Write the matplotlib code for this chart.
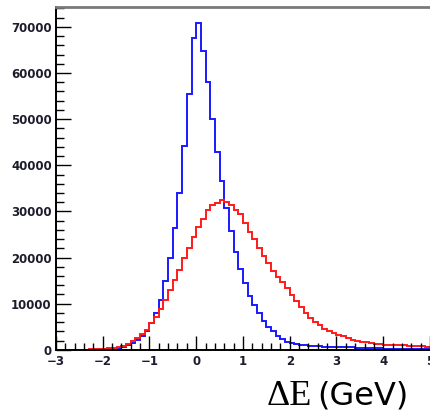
import numpy as np
import matplotlib
matplotlib.use("Agg")
import matplotlib.pyplot as plt
from matplotlib.ticker import MultipleLocator

# histogram binning: 80 bins of 0.1 GeV from -3 to 5
bin_edges = np.linspace(-3.0, 5.0, 81)

# blue histogram (narrow peak)
blue_counts = [
    0, 0, 0, 0, 0, 10, 20, 40, 60, 90,
    130, 190, 280, 420, 650, 1000, 1500, 2100, 2900, 4000,
    5850, 8000, 10850, 14970, 19950, 26450, 34100, 44250, 55500, 67500,
    70900, 64700, 58000, 50100, 42900, 36500, 30700, 25670, 21250, 17550,
    14460, 11750, 9650, 7900, 6250, 5060, 3980, 3040, 2310, 1800,
    1450, 1200, 1080, 950, 870, 800, 740, 690, 650, 610,
    580, 560, 540, 520, 400, 360, 340, 320, 310, 300,
    290, 280, 270, 260, 250, 240, 230, 220, 210, 200,
]

# red histogram (broad, skewed)
red_counts = [
    0, 0, 0, 0, 0, 0, 0, 100, 150, 200,
    250, 430, 430, 650, 940, 1300, 1810, 2530, 3400, 4340,
    5780, 7090, 8820, 10850, 13020, 15180, 17350, 19890, 22060, 24450,
    26620, 28350, 30220, 31450, 31820, 32390, 31950, 31400, 30370, 29430,
    27480, 25530, 24010, 22060, 20390, 18800, 17000, 15800, 14800, 13380,
    11930, 10480, 9260, 7960, 6870, 6140, 5300, 4600, 4100, 3700,
    3250, 2900, 2550, 2200, 1950, 1750, 1600, 1450, 1350, 1300,
    1150, 1100, 1050, 1000, 950, 930, 880, 820, 780, 720,
]

fig = plt.figure(figsize=(4.30, 4.15), dpi=100)
ax = fig.add_axes([0.130, 0.157, 0.870, 0.826])

ax.stairs(blue_counts, bin_edges, color="#1a1aff", linewidth=1.4)
ax.stairs(red_counts, bin_edges, color="#ff1a1a", linewidth=1.4)

ax.set_xlim(-3, 5)
ax.set_ylim(0, 74300)

ax.xaxis.set_major_locator(MultipleLocator(1))
ax.xaxis.set_minor_locator(MultipleLocator(0.2))
ax.yaxis.set_major_locator(MultipleLocator(10000))
ax.yaxis.set_minor_locator(MultipleLocator(2000))

label_color = "#1c1c2c"
ax.tick_params(axis="both", which="both", direction="in", color="black",
               width=1.0, labelcolor=label_color)
ax.tick_params(axis="x", which="major", length=10, pad=4, labelsize=8.5)
ax.tick_params(axis="x", which="minor", length=5)
ax.tick_params(axis="y", which="major", length=11, pad=3, labelsize=8.5)
ax.tick_params(axis="y", which="minor", length=6)
for lab in ax.get_xticklabels() + ax.get_yticklabels():
    lab.set_fontweight("bold")

ax.spines["right"].set_visible(False)
ax.spines["top"].set_color("#7a7a7a")
ax.spines["top"].set_linewidth(2.0)
ax.spines["left"].set_linewidth(1.4)
ax.spines["bottom"].set_linewidth(1.4)

# axis title: serif Delta E followed by sans (GeV)
fig.text(267 / 430, 1 - 405 / 415, "ΔE", family="Liberation Serif",
         fontsize=26, ha="left", va="baseline", color="black")
fig.text(317 / 430, 1 - 404 / 415, "(GeV)", family="DejaVu Sans",
         fontsize=23, ha="left", va="baseline", color="black")

fig.savefig("out.png", dpi=100)
